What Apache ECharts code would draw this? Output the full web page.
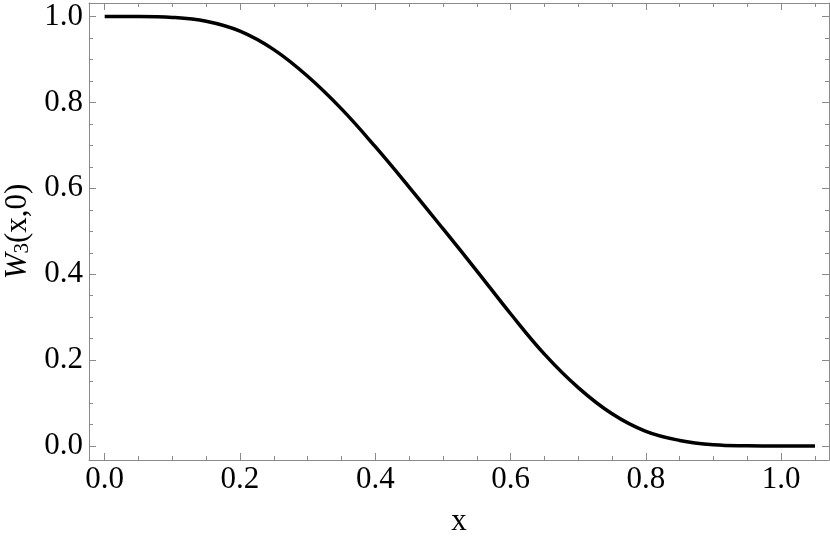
<!DOCTYPE html>
<html>
<head>
<meta charset="utf-8">
<script src="https://cdn.jsdelivr.net/npm/echarts@6/dist/echarts.min.js"></script>
<style>
html,body{margin:0;padding:0;background:#fff;}
#chart{width:830px;height:542px;}
</style>
</head>
<body>
<div id="chart"></div>
<script>
var xValues = [0, 0.05, 0.10, 0.15, 0.20, 0.25, 0.30, 0.35, 0.40, 0.45, 0.50, 0.55, 0.60, 0.65, 0.70, 0.75, 0.80, 0.85, 0.90, 0.95, 1.00, 1.05];
var yValues = [1.000, 1.000, 0.998, 0.989, 0.966, 0.923, 0.861, 0.785, 0.697, 0.603, 0.506, 0.408, 0.308, 0.214, 0.136, 0.075, 0.034, 0.013, 0.003, 0.0005, 0, 0];
var majorTicks = [0, 0.2, 0.4, 0.6, 0.8, 1.0];
var xMinorTicks = [0.05, 0.10, 0.15, 0.25, 0.30, 0.35, 0.45, 0.50, 0.55, 0.65, 0.70, 0.75, 0.85, 0.90, 0.95, 1.05];
var yMinorTicks = [0.05, 0.10, 0.15, 0.25, 0.30, 0.35, 0.45, 0.50, 0.55, 0.65, 0.70, 0.75, 0.85, 0.90, 0.95];

var X_MIN = -0.0232, X_MAX = 1.0707, Y_MIN = -0.0326, Y_MAX = 1.0316;
var FRAME = '#8a8a8a';
var FONT = '"Liberation Serif", "Times New Roman", Times, serif';

function axisBase(pos, min, max) {
  return {
    type: 'value', position: pos, min: min, max: max,
    splitLine: {show: false},
    axisLine: {show: false, onZero: false, lineStyle: {color: FRAME, width: 1}},
    axisTick: {show: false},
    axisLabel: {show: false}
  };
}
function majorAxis(pos, min, max, withLabels) {
  var a = axisBase(pos, min, max);
  a.axisLine.show = true;
  a.axisTick = {show: true, inside: true, length: 7, customValues: majorTicks, lineStyle: {color: FRAME, width: 1}};
  if (withLabels) {
    a.axisLabel = {
      show: true, customValues: majorTicks,
      fontFamily: FONT, fontSize: 31, color: '#000',
      formatter: function (v) { return v.toFixed(1); }
    };
  }
  return a;
}
function minorAxis(pos, min, max, vals) {
  var a = axisBase(pos, min, max);
  a.axisTick = {show: true, inside: true, length: 4, customValues: vals, lineStyle: {color: FRAME, width: 1}};
  return a;
}

var xBottom = majorAxis('bottom', X_MIN, X_MAX, true);
xBottom.axisLabel.margin = 4;
xBottom.name = 'x';
xBottom.nameLocation = 'middle';
xBottom.nameGap = 46;
xBottom.nameTextStyle = {fontFamily: FONT, fontSize: 31, color: '#000'};

var yLeft = majorAxis('left', Y_MIN, Y_MAX, true);
yLeft.axisLabel.margin = 6;
yLeft.name = '{i|W}{s|3}{n|(x,0)}';
yLeft.nameLocation = 'middle';
yLeft.nameRotate = 90;
yLeft.nameGap = 56;
yLeft.nameTextStyle = {
  fontFamily: FONT, fontSize: 31, color: '#000',
  rich: {
    i: {fontFamily: FONT, fontSize: 31, fontStyle: 'italic', color: '#000', lineHeight: 36, verticalAlign: 'bottom'},
    s: {fontFamily: FONT, fontSize: 21, color: '#000', lineHeight: 36, verticalAlign: 'bottom'},
    n: {fontFamily: FONT, fontSize: 31, color: '#000', lineHeight: 36, verticalAlign: 'bottom'}
  }
};

var option = {
  backgroundColor: '#fff',
  animation: false,
  grid: {left: 89, right: 1, top: 3, bottom: 82, containLabel: false, outerBoundsMode: 'none'},
  xAxis: [
    xBottom,
    minorAxis('bottom', X_MIN, X_MAX, xMinorTicks),
    majorAxis('top', X_MIN, X_MAX, false),
    minorAxis('top', X_MIN, X_MAX, xMinorTicks)
  ],
  yAxis: [
    yLeft,
    minorAxis('left', Y_MIN, Y_MAX, yMinorTicks),
    majorAxis('right', Y_MIN, Y_MAX, false),
    minorAxis('right', Y_MIN, Y_MAX, yMinorTicks)
  ],
  series: [{
    type: 'line',
    xAxisIndex: 0, yAxisIndex: 0,
    data: xValues.map(function (x, i) { return [x, yValues[i]]; }),
    smooth: 0.4,
    showSymbol: false,
    lineStyle: {color: '#000', width: 3.5},
    z: 5
  }]
};

var chart = echarts.init(document.getElementById('chart'), null, {renderer: 'canvas'});
chart.setOption(option);
</script>
</body>
</html>
